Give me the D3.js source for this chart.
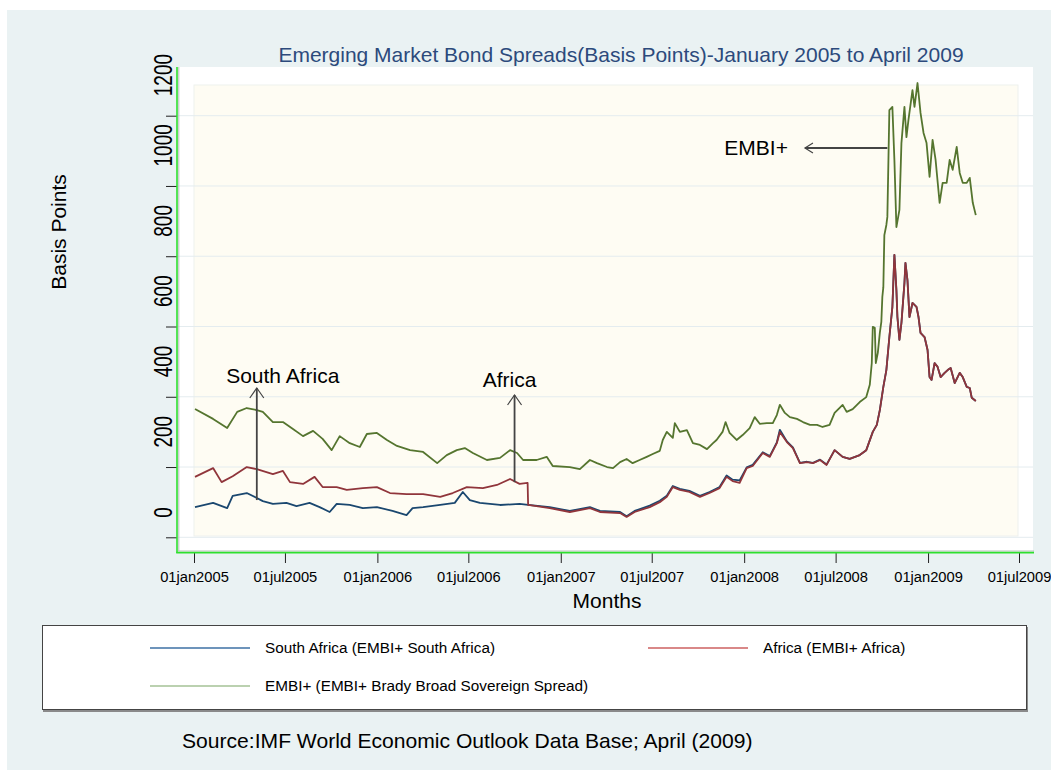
<!DOCTYPE html>
<html>
<head>
<meta charset="utf-8">
<script src="https://cdn.jsdelivr.net/npm/d3@7"></script>
<style>
    body { margin: 0; background: #fff; }
    #chart-area { width: 1051px; height: 770px; }
    text { font-family: "Liberation Sans", Arial, sans-serif; }
</style>
</head>
<body>
<div id="chart-area"></div>
<script>

// ---- data ----

// EMBI+ South Africa, basis points
const southAfrica = [
    ["2005-01-03",86],["2005-02-08",98],["2005-03-08",83],["2005-03-19",118],["2005-04-16",126],["2005-05-06",112],
    ["2005-05-18",103],["2005-06-07",95],["2005-07-04",98],["2005-07-24",89],["2005-08-19",98],["2005-09-08",86],
    ["2005-09-28",72],["2005-10-12",95],["2005-11-07",92],["2005-12-03",83],["2005-12-31",86],["2006-01-31",75],
    ["2006-02-28",63],["2006-03-12",83],["2006-04-02",86],["2006-05-06",92],["2006-06-04",98],["2006-06-20",129],
    ["2006-07-04",106],["2006-07-24",98],["2006-09-02",92],["2006-10-11",95],["2006-10-28",92],["2006-12-10",86],
    ["2007-01-19",75],["2007-02-28",86],["2007-03-20",75],["2007-04-29",72],["2007-05-12",60],["2007-05-28",75],
    ["2007-06-27",90],["2007-07-17",104],["2007-07-31",118],["2007-08-12",146],["2007-08-26",138],["2007-09-14",132],
    ["2007-10-05",118],["2007-10-24",129],["2007-11-13",143],["2007-11-27",176],["2007-12-09",164],["2007-12-23",162],
    ["2008-01-06",199],["2008-01-18",206],["2008-02-07",242],["2008-02-21",231],["2008-03-06",270],["2008-03-12",306],
    ["2008-03-26",273],["2008-04-07",256],["2008-04-21",212],["2008-05-05",215],["2008-05-17",212],["2008-05-31",221],
    ["2008-06-13",207],["2008-06-29",248],["2008-07-15",229],["2008-07-29",223],["2008-08-18",234],["2008-08-31",248],
    ["2008-09-13",300],["2008-09-21",320],["2008-09-27",362],["2008-10-04",428],["2008-10-10",476],["2008-10-16",570],
    ["2008-10-22",656],["2008-10-26",804],["2008-10-30",704],["2008-11-01",627],["2008-11-05",562],["2008-11-09",610],
    ["2008-11-15",724],["2008-11-17",781],["2008-11-21",732],["2008-11-25",627],["2008-12-01",667],["2008-12-09",656],
    ["2008-12-13",627],["2008-12-17",582],["2008-12-25",570],["2008-12-31",533],["2009-01-04",456],["2009-01-08",448],
    ["2009-01-14",496],["2009-01-20",485],["2009-01-26",456],["2009-02-03",468],["2009-02-09",476],["2009-02-15",482],
    ["2009-02-23",439],["2009-03-05",468],["2009-03-11",456],["2009-03-19",428],["2009-03-25",425],["2009-03-29",397],
    ["2009-04-06",388]
];

// EMBI+ Africa, basis points
const africa = [
    ["2005-01-03",172],["2005-02-08",197],["2005-02-25",157],["2005-03-19",174],["2005-04-16",200],["2005-05-06",194],
    ["2005-06-07",180],["2005-06-27",189],["2005-07-11",157],["2005-08-06",152],["2005-08-29",172],["2005-09-14",143],
    ["2005-10-12",143],["2005-11-01",135],["2005-12-03",140],["2005-12-31",143],["2006-01-26",126],["2006-02-28",123],
    ["2006-04-02",123],["2006-05-06",115],["2006-05-31",126],["2006-06-28",143],["2006-07-30",140],["2006-08-27",149],
    ["2006-09-22",166],["2006-10-11",152],["2006-10-27",155],["2006-10-28",92],["2006-12-10",83],["2007-01-19",72],
    ["2007-02-28",83],["2007-03-20",72],["2007-04-29",69],["2007-05-12",58],["2007-05-28",72],["2007-06-27",86],
    ["2007-07-17",100],["2007-07-31",115],["2007-08-12",143],["2007-08-26",135],["2007-09-14",129],["2007-10-05",115],
    ["2007-10-24",126],["2007-11-13",140],["2007-11-27",172],["2007-12-09",160],["2007-12-23",155],["2008-01-06",197],
    ["2008-01-18",203],["2008-02-07",240],["2008-02-21",229],["2008-03-06",268],["2008-03-12",300],["2008-03-26",271],
    ["2008-04-07",254],["2008-04-21",211],["2008-05-05",214],["2008-05-17",211],["2008-05-31",220],["2008-06-13",206],
    ["2008-06-29",248],["2008-07-15",229],["2008-07-29",223],["2008-08-18",234],["2008-08-31",248],["2008-09-13",300],
    ["2008-09-21",320],["2008-09-27",362],["2008-10-04",428],["2008-10-10",476],["2008-10-16",570],["2008-10-22",656],
    ["2008-10-26",804],["2008-10-30",704],["2008-11-01",627],["2008-11-05",562],["2008-11-09",610],["2008-11-15",724],
    ["2008-11-17",781],["2008-11-21",732],["2008-11-25",627],["2008-12-01",667],["2008-12-09",656],["2008-12-13",627],
    ["2008-12-17",582],["2008-12-25",570],["2008-12-31",533],["2009-01-04",456],["2009-01-08",448],["2009-01-14",496],
    ["2009-01-20",485],["2009-01-26",456],["2009-02-03",468],["2009-02-09",476],["2009-02-15",482],["2009-02-23",439],
    ["2009-03-05",468],["2009-03-11",456],["2009-03-19",428],["2009-03-25",425],["2009-03-29",397],["2009-04-06",388]
];

// EMBI+ Brady Broad Sovereign Spread, basis points
const embi = [
    ["2005-01-03",365],["2005-02-08",337],["2005-03-08",311],["2005-03-28",357],["2005-04-16",368],["2005-05-06",362],
    ["2005-05-18",357],["2005-06-07",328],["2005-06-27",328],["2005-07-17",308],["2005-08-06",288],["2005-08-26",303],
    ["2005-09-14",280],["2005-10-02",248],["2005-10-18",288],["2005-11-07",268],["2005-11-27",257],["2005-12-11",294],
    ["2005-12-31",297],["2006-01-20",277],["2006-02-09",260],["2006-03-07",248],["2006-04-02",243],["2006-04-30",211],
    ["2006-05-19",234],["2006-06-08",248],["2006-06-24",254],["2006-07-10",240],["2006-08-07",220],["2006-09-02",226],
    ["2006-09-22",248],["2006-10-06",240],["2006-10-18",220],["2006-11-14",220],["2006-12-04",229],["2006-12-16",203],
    ["2007-01-19",200],["2007-02-08",194],["2007-02-28",220],["2007-03-14",211],["2007-04-03",200],["2007-04-15",197],
    ["2007-04-29",214],["2007-05-12",223],["2007-05-24",211],["2007-06-07",220],["2007-06-21",229],["2007-07-03",237],
    ["2007-07-17",246],["2007-07-23",277],["2007-07-31",300],["2007-08-12",283],["2007-08-16",325],["2007-08-26",300],
    ["2007-09-09",305],["2007-09-21",268],["2007-10-05",263],["2007-10-19",251],["2007-10-31",268],["2007-11-07",277],
    ["2007-11-19",300],["2007-11-25",328],["2007-12-03",297],["2007-12-17",277],["2007-12-29",291],["2008-01-12",311],
    ["2008-01-22",342],["2008-02-01",323],["2008-02-15",325],["2008-02-27",325],["2008-03-06",348],["2008-03-12",377],
    ["2008-03-22",354],["2008-04-01",342],["2008-04-15",337],["2008-04-27",328],["2008-05-11",320],["2008-05-25",320],
    ["2008-06-05",314],["2008-06-19",320],["2008-06-29",354],["2008-07-15",377],["2008-07-23",357],["2008-08-04",365],
    ["2008-08-18",385],["2008-08-31",399],["2008-09-07",434],["2008-09-11",496],["2008-09-13",599],["2008-09-17",596],
    ["2008-09-19",496],["2008-09-23",525],["2008-09-27",582],["2008-09-30",613],["2008-10-02",684],["2008-10-04",712],
    ["2008-10-06",860],["2008-10-10",889],["2008-10-12",912],["2008-10-16",1216],["2008-10-22",1225],["2008-10-26",1074],
    ["2008-10-30",883],["2008-11-05",932],["2008-11-09",1122],["2008-11-15",1225],["2008-11-19",1139],["2008-11-23",1188],
    ["2008-12-01",1273],["2008-12-05",1225],["2008-12-11",1293],["2008-12-17",1208],["2008-12-23",1151],["2008-12-29",1122],
    ["2009-01-04",1026],["2009-01-10",1131],["2009-01-16",1074],["2009-01-24",952],["2009-01-30",1009],["2009-02-07",1009],
    ["2009-02-13",1074],["2009-02-19",1046],["2009-02-27",1111],["2009-03-05",1037],["2009-03-11",1009],["2009-03-19",1009],
    ["2009-03-25",1023],["2009-03-31",952],["2009-04-06",917]
];

const yTicks = [0, 200, 400, 600, 800, 1000, 1200];
const xTicks = ["2005-01-01","2005-07-01","2006-01-01","2006-07-01","2007-01-01",
                "2007-07-01","2008-01-01","2008-07-01","2009-01-01","2009-07-01"];
const xDomain = ["2005-01-01", "2009-07-01"];
const yDomain = [0, 1200];

const legendLabels = ["South Africa (EMBI+ South Africa)", "Africa (EMBI+ Africa)",
                      "EMBI+ (EMBI+ Brady Broad Sovereign Spread)"];

// arrow annotations: label, tail [date, bp], head [date, bp]
const noteLabels = ["South Africa", "Africa", "EMBI+"];
const noteTails = [["2005-05-06", 106], ["2006-10-01", 157], ["2008-10-12", 1108]];
const noteHeads = [["2005-05-06", 425], ["2006-10-01", 405], ["2008-05-01", 1108]];

const titleText = "Emerging Market Bond Spreads(Basis Points)-January 2005 to April 2009";
const sourceText = "Source:IMF World Economic Outlook Data Base; April (2009)";


/* * * * * * * * * * * * * *
*   class BondSpreadsVis   *
* * * * * * * * * * * * * */

class BondSpreadsVis {

    constructor(parentElement) {
        this.parentElement = parentElement;
        this.parseDate = d3.timeParse("%Y-%m-%d");
        this.initVis();
    }

    initVis() {
        let vis = this;

        vis.width = 1051;
        vis.height = 770;

        vis.svg = d3.select("#" + vis.parentElement).append("svg")
            .attr("width", vis.width)
            .attr("height", vis.height);

        // graph region (stata bluish gray)
        vis.svg.append("rect")
            .attr("x", 7).attr("y", 10)
            .attr("width", vis.width - 7).attr("height", vis.height - 10)
            .attr("fill", "#eaf2f3");

        // white plot frame + cream inner region
        vis.svg.append("rect")
            .attr("x", 178).attr("y", 67)
            .attr("width", 855).attr("height", 485)
            .attr("fill", "#ffffff");

        vis.svg.append("rect")
            .attr("x", 194).attr("y", 85)
            .attr("width", 824).attr("height", 451)
            .attr("fill", "#fefcf3")
            .attr("stroke", "#eef1ee");

        // Scales
        vis.x = d3.scaleTime()
            .domain(xDomain.map(vis.parseDate))
            .range([194, 1019]);

        vis.y = d3.scaleLinear()
            .domain(yDomain)
            .range([537.3, 115.7]);

        vis.updateVis();
    }

    updateVis() {
        let vis = this;

        // gridlines
        vis.svg.append("g").attr("class", "grid")
            .selectAll("line")
            .data(yTicks)
            .enter().append("line")
            .attr("x1", 178).attr("x2", 1033)
            .attr("y1", d => vis.y(d)).attr("y2", d => vis.y(d))
            .attr("stroke", "#e4ecef")
            .attr("stroke-width", 1);

        // y axis
        vis.yAxis = d3.axisLeft(vis.y)
            .tickValues(yTicks)
            .tickSize(11)
            .tickFormat(d3.format("d"));

        let yg = vis.svg.append("g")
            .attr("class", "y-axis axis")
            .attr("transform", "translate(177,0)")
            .call(vis.yAxis);
        yg.select(".domain").remove();
        yg.selectAll("line").attr("stroke", "#222");
        yg.selectAll("text")
            .attr("x", 0).attr("dy", 0)
            .attr("transform", "translate(-5,-20) rotate(-90) scale(0.95,1.3)")
            .style("text-anchor", "start")
            .style("font-size", "20px")
            .style("font-family", "'Liberation Sans', Arial, sans-serif")
            .attr("fill", "#000");

        // x axis
        vis.xAxis = d3.axisBottom(vis.x)
            .tickValues(xTicks.map(vis.parseDate))
            .tickSize(11)
            .tickFormat(d => d3.timeFormat("%d%b%Y")(d).toLowerCase());

        let xg = vis.svg.append("g")
            .attr("class", "x-axis axis")
            .attr("transform", "translate(0,552)")
            .call(vis.xAxis);
        xg.select(".domain").remove();
        xg.selectAll("line").attr("stroke", "#222");
        xg.selectAll("text")
            .attr("y", 30).attr("dy", 0)
            .style("font-size", "14.7px")
            .style("font-family", "'Liberation Sans', Arial, sans-serif")
            .attr("fill", "#000");

        // the bright green axis lines with their grey shadow
        vis.svg.append("line")
            .attr("x1", 178.8).attr("x2", 178.8).attr("y1", 67).attr("y2", 551)
            .attr("stroke", "#b8bcbc").attr("stroke-width", 1);
        vis.svg.append("line")
            .attr("x1", 177).attr("x2", 177).attr("y1", 67).attr("y2", 553)
            .attr("stroke", "#2ee02e").attr("stroke-width", 1.6);
        vis.svg.append("line")
            .attr("x1", 178).attr("x2", 1034).attr("y1", 551).attr("y2", 551)
            .attr("stroke", "#b8bcbc").attr("stroke-width", 1);
        vis.svg.append("line")
            .attr("x1", 176.2).attr("x2", 1034).attr("y1", 552.6).attr("y2", 552.6)
            .attr("stroke", "#2ee02e").attr("stroke-width", 1.6);

        // Define line function
        let line = d3.line()
            .curve(d3.curveLinear)
            .x(d => vis.x(vis.parseDate(d[0])))
            .y(d => vis.y(d[1]));

        let series = [
            {values: southAfrica, color: "#1a476f"},
            {values: africa, color: "#90353b"},
            {values: embi, color: "#55752f"}
        ];

        vis.svg.append("g").attr("class", "lines")
            .selectAll("path")
            .data(series)
            .enter().append("path")
            .attr("d", d => line(d.values))
            .attr("stroke", d => d.color)
            .attr("stroke-width", 1.8)
            .attr("stroke-linejoin", "round")
            .attr("fill", "none");

        // arrows + labels
        noteLabels.forEach(function(label, i) {
            let tx = vis.x(vis.parseDate(noteTails[i][0])), ty = vis.y(noteTails[i][1]);
            let hx = vis.x(vis.parseDate(noteHeads[i][0])), hy = vis.y(noteHeads[i][1]);
            let g = vis.svg.append("g").attr("class", "note");

            g.append("line")
                .attr("x1", tx).attr("y1", ty).attr("x2", hx).attr("y2", hy)
                .attr("stroke", "#444").attr("stroke-width", 1.8);

            let head, textX, textY, anchor;
            if (hx === tx) {
                head = `M${hx - 7},${hy + 10}L${hx},${hy}L${hx + 7},${hy + 10}`;
                if (i === 0) { textX = hx + 26; textY = hy - 5; }
                else { textX = hx - 5; textY = hy - 8; }
                anchor = "middle";
            } else {
                head = `M${hx + 8},${hy - 5}L${hx},${hy}L${hx + 8},${hy + 5}`;
                textX = hx - 17; textY = hy + 7;
                anchor = "end";
            }
            g.append("path").attr("d", head)
                .attr("fill", "none").attr("stroke", "#444").attr("stroke-width", 1.2);

            g.append("text")
                .attr("x", textX).attr("y", textY)
                .attr("text-anchor", anchor)
                .style("font-size", "21px")
                .attr("fill", "#000")
                .text(label);
        });

        // titles
        vis.svg.append("text")
            .attr("x", 621).attr("y", 62)
            .attr("text-anchor", "middle")
            .style("font-size", "21px")
            .attr("fill", "#2c4a7c")
            .text(titleText);

        vis.svg.append("text")
            .attr("transform", "translate(66,232) rotate(-90)")
            .attr("text-anchor", "middle")
            .style("font-size", "21px")
            .text("Basis Points");

        vis.svg.append("text")
            .attr("x", 607).attr("y", 608)
            .attr("text-anchor", "middle")
            .style("font-size", "21px")
            .text("Months");

        // legend
        let legend = vis.svg.append("g").attr("class", "legend");
        legend.append("rect")
            .attr("x", 43).attr("y", 627).attr("width", 985).attr("height", 85)
            .attr("fill", "#8a8a8a");
        legend.append("rect")
            .attr("x", 42.5).attr("y", 625.5).attr("width", 984).attr("height", 84)
            .attr("fill", "#fff").attr("stroke", "#444").attr("stroke-width", 1);

        let legendColors = ["#3d70a4", "#cc6060", "#a5c296"];
        let legendPos = [[150, 648], [648, 648], [150, 686]];
        legendLabels.forEach(function(label, i) {
            legend.append("line")
                .attr("x1", legendPos[i][0]).attr("x2", legendPos[i][0] + 100)
                .attr("y1", legendPos[i][1]).attr("y2", legendPos[i][1])
                .attr("stroke", legendColors[i]).attr("stroke-width", 1.3);
            legend.append("text")
                .attr("x", legendPos[i][0] + 115).attr("y", legendPos[i][1] + 5)
                .style("font-size", "15.3px")
                .text(label);
        });

        vis.svg.append("text")
            .attr("x", 182).attr("y", 748)
            .style("font-size", "21.1px")
            .text(sourceText);
    }
}

let bondVis = new BondSpreadsVis("chart-area");

</script>
</body>
</html>
